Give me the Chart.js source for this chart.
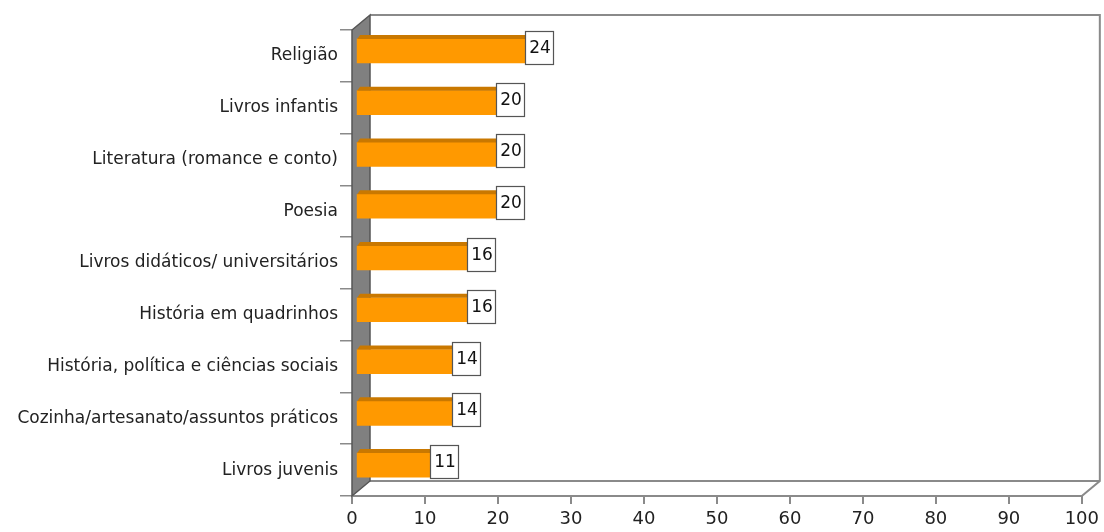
<!DOCTYPE html>
<html>
<head>
<meta charset="utf-8">
<script src="https://cdn.jsdelivr.net/npm/chart.js@4"></script>
<style>
  body { margin: 0; background: #fff; }
</style>
</head>
<body>
<canvas id="c" width="1104" height="532"></canvas>
<script>
const categories = [
  "Religião",
  "Livros infantis",
  "Literatura (romance e conto)",
  "Poesia",
  "Livros didáticos/ universitários",
  "História em quadrinhos",
  "História, política e ciências sociais",
  "Cozinha/artesanato/assuntos práticos",
  "Livros juvenis",
];
const values = [24, 20, 20, 20, 16, 16, 14, 14, 11];
const xMin = 0;
const xMax = 100;
const xStep = 10;

// depth of the fake 3d box
const DX = 18, DY = 15;
// bars sit a little inside the box
const BAR_DY = 5;

const frame3d = {
  id: "frame3d",
  beforeDatasetsDraw(chart) {
    const { ctx, chartArea: a } = chart;
    ctx.save();
    // back wall + floor outline
    ctx.strokeStyle = "#8a8a8a";
    ctx.lineWidth = 2;
    ctx.beginPath();
    ctx.moveTo(a.left + DX, a.top - DY);
    ctx.lineTo(a.right + DX, a.top - DY);
    ctx.lineTo(a.right + DX, a.bottom - DY);
    ctx.lineTo(a.right, a.bottom);
    ctx.moveTo(a.left + DX, a.bottom - DY);
    ctx.lineTo(a.right + DX, a.bottom - DY);
    ctx.stroke();

    // left wall
    ctx.fillStyle = "#808080";
    ctx.strokeStyle = "#555";
    ctx.lineWidth = 1.5;
    ctx.beginPath();
    ctx.moveTo(a.left, a.top);
    ctx.lineTo(a.left + DX, a.top - DY);
    ctx.lineTo(a.left + DX, a.bottom - DY);
    ctx.lineTo(a.left, a.bottom);
    ctx.closePath();
    ctx.fill();
    ctx.stroke();
    ctx.restore();

    //shift bars back into the box
    ctx.save();
    ctx.translate(0, -BAR_DY);
  },
  afterDatasetsDraw(chart) {
    const { ctx } = chart;
    ctx.restore();

    const meta = chart.getDatasetMeta(0);
    ctx.save();
    meta.data.forEach((bar, i) => {
      let top = bar.y - bar.height / 2 - BAR_DY;

      // top face
      ctx.fillStyle = "#c97800";
      ctx.beginPath();
      ctx.moveTo(bar.base, top);
      ctx.lineTo(bar.x, top);
      ctx.lineTo(bar.x + 3, top - 4);
      ctx.lineTo(bar.base + 3, top - 4);
      ctx.closePath();
      ctx.fill();

      // value box
      let bx = Math.round(bar.x) - 2, by = Math.round(top) - 8, bw = 28, bh = 33;
      ctx.fillStyle = "#fff";
      ctx.fillRect(bx, by, bw, bh);
      ctx.strokeStyle = "#555";
      ctx.lineWidth = 1.2;
      ctx.strokeRect(bx + 0.5, by + 0.5, bw, bh);
      ctx.fillStyle = "#111";
      ctx.font = "17px 'DejaVu Sans'";
      ctx.textAlign = "center";
      ctx.textBaseline = "middle";
      ctx.fillText(String(values[i]), bx + bw / 2 + 1, by + bh / 2 + 1);
    });
    ctx.restore();
  },
};

let ctx = document.getElementById("c").getContext("2d");
let chart = new Chart(ctx, {
  type: "bar",
  data: {
    labels: categories,
    datasets: [
      {
        data: values,
        backgroundColor: "#ff9900",
        borderWidth: 0,
        barThickness: 24,
        base: 0.7,
      },
    ],
  },
  options: {
    indexAxis: "y",
    responsive: false,
    animation: false,
    layout: { padding: { top: 30, right: 21, left: 0, bottom: 0 } },
    plugins: {
      legend: { display: false },
      tooltip: { enabled: false },
    },
    scales: {
      x: {
        min: xMin,
        max: xMax,
        afterFit: (s) => { s.height = 36; },
        ticks: {
          stepSize: xStep,
          color: "#222",
          padding: 5,
          font: { family: "'DejaVu Sans'", size: 18 },
        },
        grid: {
          drawOnChartArea: false,
          tickLength: 8,
          color: "#8a8a8a",
          lineWidth: 2,
        },
        border: { color: "#8a8a8a", width: 2 },
      },
      y: {
        afterFit: (s) => { s.width = 352; },
        ticks: {
          color: "#222",
          padding: 2,
          font: { family: "'DejaVu Sans'", size: 17 },
        },
        grid: {
          drawOnChartArea: false,
          tickLength: 12,
          color: "#8a8a8a",
          lineWidth: 1.5,
        },
        border: { display: false },
      },
    },
  },
  plugins: [frame3d],
});
</script>
</body>
</html>
